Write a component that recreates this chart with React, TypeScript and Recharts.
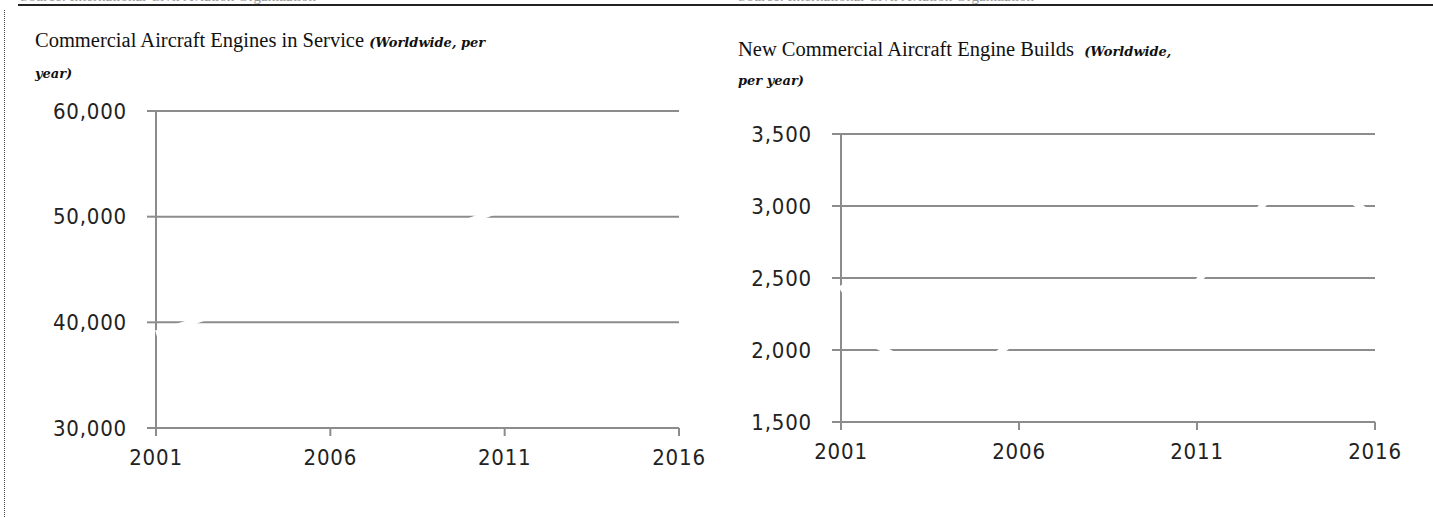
import React from 'react';
import { LineChart, Line, XAxis, YAxis, CartesianGrid } from 'recharts';

// Years shown on both charts
const years = [2001, 2002, 2003, 2004, 2005, 2006, 2007, 2008, 2009, 2010, 2011, 2012, 2013, 2014, 2015, 2016];
const yearTicks = [2001, 2006, 2011, 2016];

// Engines in service (worldwide, per year)
const enginesInService = [38950, 40000, 41150, 42300, 43500, 44700, 45950, 47200, 48400, 49600, 50850, 52000, 53200, 54400, 55600, 56800];
const serviceTicks = [30000, 40000, 50000, 60000];

// New engine builds (worldwide, per year)
const newEngineBuilds = [2450, 2030, 1900, 1880, 1900, 2085, 2150, 2250, 2300, 2380, 2470, 2760, 3050, 3150, 3100, 2920];
const buildTicks = [1500, 2000, 2500, 3000, 3500];

const GRID = '#8c8c8c';
const TICK_FONT = "'DejaVu Sans Condensed', 'DejaVu Sans', sans-serif";

interface PanelProps {
  values: number[];
  ticks: number[];
  left: number;
  top: number;
  width: number;
  height: number;
  marginTop: number;
  yAxisWidth: number;
}

const xAxisHeight = 50;
const marginRight = 30;

const Panel: React.FC<PanelProps> = ({ values, ticks, left, top, width, height, marginTop, yAxisWidth }) => {
  const data = years.map((year, i) => ({ year, value: values[i] }));
  const domain = [ticks[0], ticks[ticks.length - 1]];
  const tickStyle = { fontFamily: TICK_FONT, fontSize: 22, letterSpacing: 0.8, fill: '#222' };

  return (
    <>
      {/* grid and axes */}
      <div style={{ position: 'absolute', left, top }}>
        <LineChart width={width} height={height} data={data} margin={{ top: marginTop, right: marginRight, bottom: 0, left: 0 }}>
          <CartesianGrid vertical={false} stroke={GRID} strokeWidth={2} />
          <XAxis
            dataKey="year"
            type="number"
            domain={[2001, 2016]}
            ticks={yearTicks}
            height={xAxisHeight}
            tickSize={8}
            tickMargin={13}
            axisLine={{ stroke: GRID, strokeWidth: 2 }}
            tickLine={{ stroke: GRID, strokeWidth: 2 }}
            tick={tickStyle}
          />
          <YAxis
            type="number"
            domain={domain}
            ticks={ticks}
            width={yAxisWidth}
            tickSize={9}
            tickMargin={20}
            axisLine={{ stroke: GRID, strokeWidth: 2 }}
            tickLine={{ stroke: GRID, strokeWidth: 2 }}
            tick={tickStyle}
            tickFormatter={(v: number) => v.toLocaleString('en-US')}
          />
          <Line dataKey="value" stroke="none" dot={false} activeDot={false} isAnimationActive={false} />
        </LineChart>
      </div>
      {/* the series is drawn white, so it only shows where it cuts the grid */}
      <div style={{ position: 'absolute', left, top }}>
        <LineChart width={width} height={height} data={data} margin={{ top: marginTop, right: marginRight, bottom: xAxisHeight, left: yAxisWidth }}>
          <XAxis dataKey="year" type="number" domain={[2001, 2016]} hide />
          <YAxis type="number" domain={domain} hide />
          <Line dataKey="value" type="linear" stroke="#ffffff" strokeWidth={6} dot={false} activeDot={false} isAnimationActive={false} />
        </LineChart>
      </div>
    </>
  );
};

const titleStyle: React.CSSProperties = {
  position: 'absolute',
  fontFamily: "'Liberation Serif', serif",
  fontSize: 20.5,
  color: '#111',
  whiteSpace: 'pre',
};
const subStyle: React.CSSProperties = {
  fontFamily: "'DejaVu Serif', serif",
  fontStyle: 'italic',
  fontWeight: 600,
  fontSize: 13,
};

export default function App() {
  return (
    <div style={{ position: 'fixed', left: 0, top: 0, width: 1433, height: 517, overflow: 'hidden', background: '#fff' }}>
      <div style={{ position: 'absolute', left: 20, top: -12, fontFamily: "'Liberation Serif', serif", fontSize: 15, color: '#999', whiteSpace: 'pre' }}>
        Source: International Civil Aviation Organization
      </div>
      <div style={{ position: 'absolute', left: 738, top: -12, fontFamily: "'Liberation Serif', serif", fontSize: 15, color: '#999', whiteSpace: 'pre' }}>
        Source: International Civil Aviation Organization
      </div>
      <div style={{ position: 'absolute', left: 18, top: 4, width: 1415, borderTop: '2px solid #222' }} />
      <div style={{ position: 'absolute', left: 4, top: 10, height: 507, borderLeft: '1px dotted #444' }} />

      <div style={{ ...titleStyle, left: 35, top: 26, lineHeight: '28px' }}>
        Commercial Aircraft Engines in Service <span style={subStyle}>(Worldwide, per</span>
        <br />
        <span style={subStyle}>year)</span>
      </div>
      <div style={{ ...titleStyle, left: 738, top: 36, lineHeight: '26px' }}>
        New Commercial Aircraft Engine Builds  <span style={subStyle}>(Worldwide,</span>
        <br />
        <span style={subStyle}>per year)</span>
      </div>

      <Panel values={enginesInService} ticks={serviceTicks} left={0} top={90} width={709} height={388} marginTop={21} yAxisWidth={156} />
      <Panel values={newEngineBuilds} ticks={buildTicks} left={720} top={110} width={685} height={362} marginTop={24} yAxisWidth={121} />
    </div>
  );
}
